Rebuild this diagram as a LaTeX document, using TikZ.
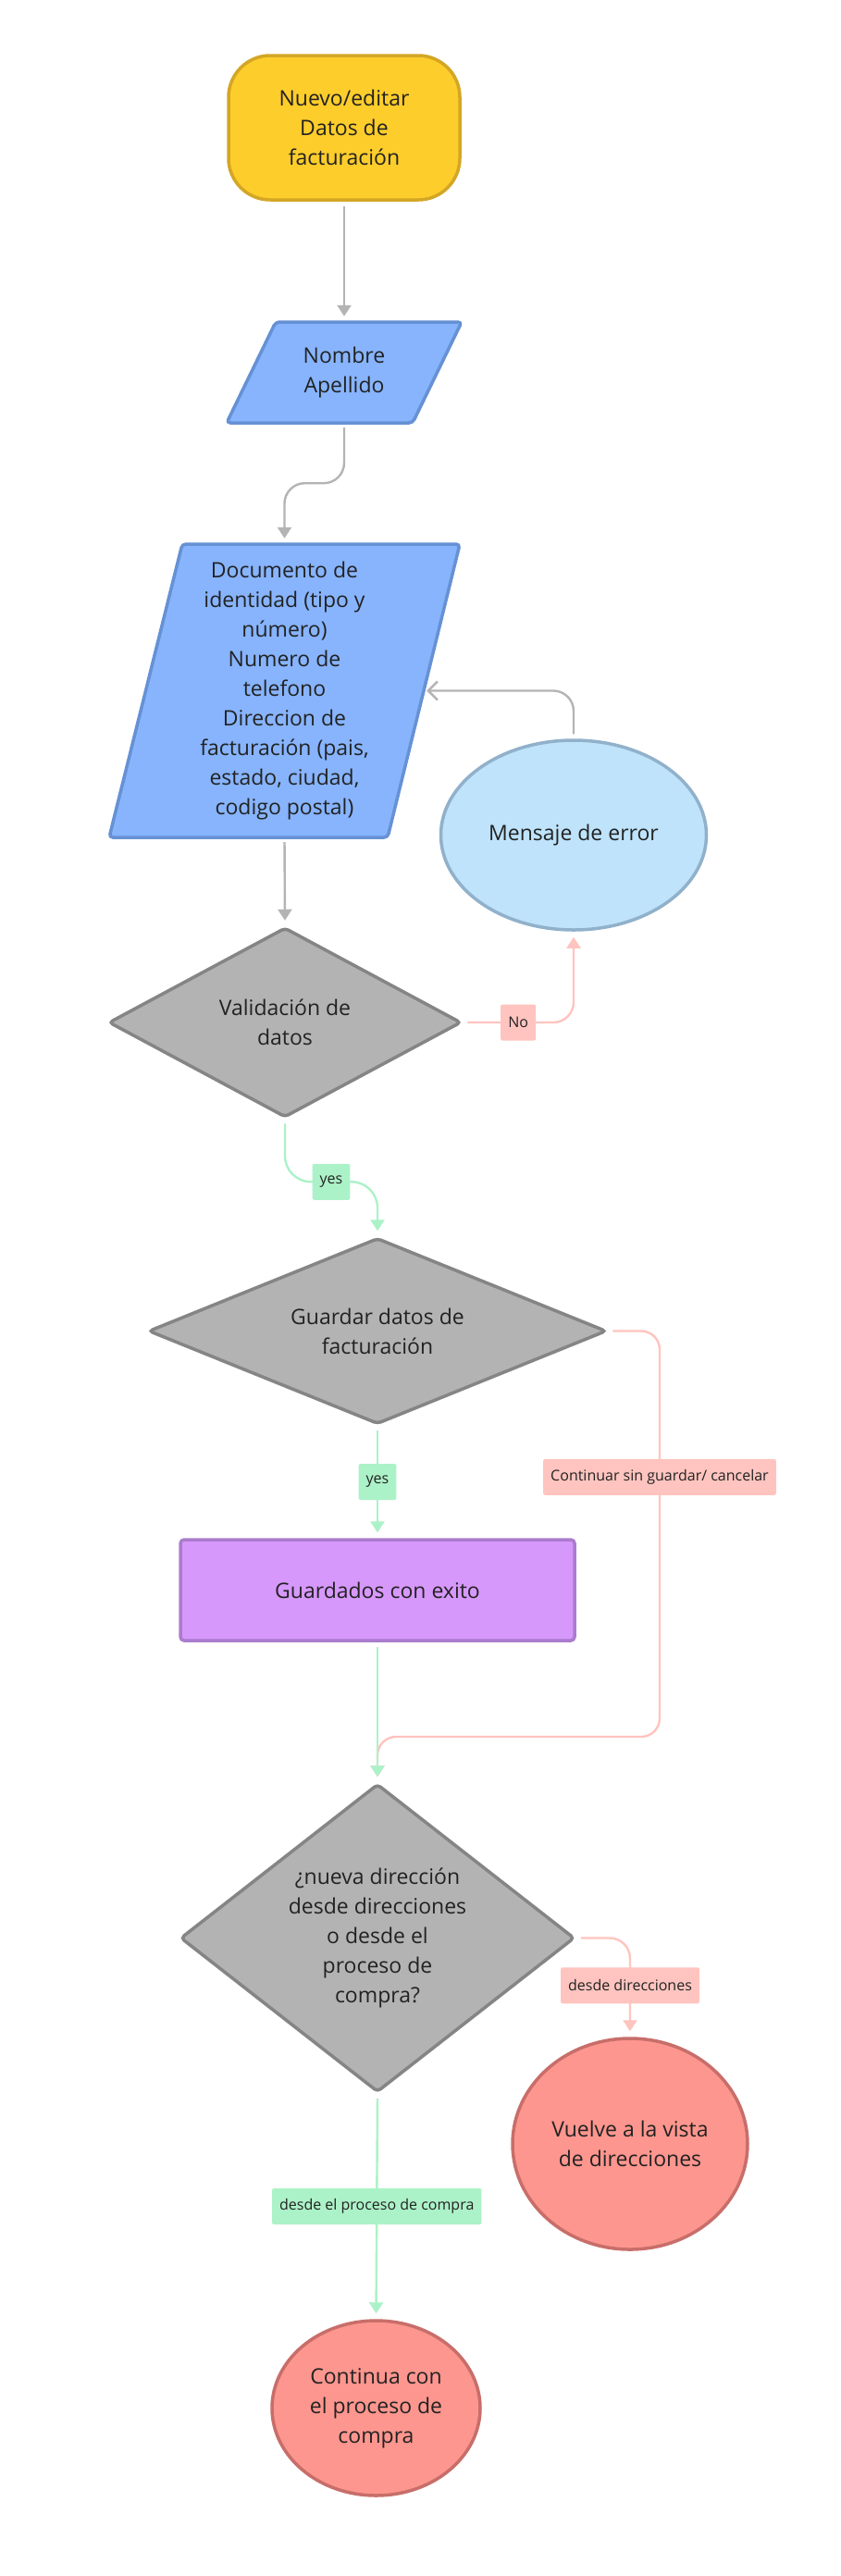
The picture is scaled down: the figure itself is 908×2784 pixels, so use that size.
\documentclass[tikz,border=0pt]{standalone}
\usepackage{fontspec}
\setmainfont{Open Sans}
\usetikzlibrary{arrows.meta,shapes.geometric}

\definecolor{txtgray}{RGB}{34,34,34}
\definecolor{startfill}{RGB}{253,205,43}
\definecolor{startline}{RGB}{212,166,38}
\definecolor{infill}{RGB}{135,180,253}
\definecolor{inline}{RGB}{102,145,212}
\definecolor{errfill}{RGB}{190,227,251}
\definecolor{errline}{RGB}{145,177,203}
\definecolor{decfill}{RGB}{179,179,179}
\definecolor{decline}{RGB}{133,133,133}
\definecolor{okfill}{RGB}{215,152,251}
\definecolor{okline}{RGB}{170,124,205}
\definecolor{endfill}{RGB}{253,150,142}
\definecolor{endline}{RGB}{200,110,106}
\definecolor{greenln}{RGB}{172,242,200}
\definecolor{pinkln}{RGB}{255,196,191}
\definecolor{grayln}{RGB}{180,180,180}

\tikzset{
  txt/.style={text=txtgray, font=\fontsize{23}{32}\selectfont, align=center},
  startbox/.style={txt, draw=startline, fill=startfill, line width=3.5pt,
    rounded corners=45pt, minimum width=250pt, minimum height=156pt},
  inbox/.style={draw=inline, fill=infill, line width=3.5pt, rounded corners=4pt},
  intext/.style={txt, inner sep=0pt},
  decision/.style={txt, diamond, draw=decline, fill=decfill, line width=3.5pt,
    rounded corners=4pt, inner sep=0pt},
  okbox/.style={txt, draw=okline, fill=okfill, line width=3.5pt, rounded corners=4pt,
    minimum width=426pt, minimum height=109pt},
  errblob/.style={txt, ellipse, draw=errline, fill=errfill, line width=3.5pt, inner sep=0pt},
  endblob/.style={txt, ellipse, draw=endline, fill=endfill, line width=3.5pt, inner sep=0pt},
  link/.style={line width=2.4pt, shorten <=5pt, shorten >=6pt,
    -{Triangle[width=15pt,length=12pt]}},
  greylink/.style={link, draw=grayln},
  greenlink/.style={link, draw=greenln},
  redlink/.style={link, draw=pinkln},
  backlink/.style={line width=2.4pt, draw=grayln, shorten <=5pt, shorten >=3pt,
    -{Straight Barb[width=20pt,length=10pt,line width=2.4pt]}},
  lbl/.style={text=txtgray, font=\fontsize{16}{20}\selectfont, inner xsep=8pt,
    inner ysep=0pt, minimum height=39pt, minimum width=38pt, rounded corners=2pt},
  glabel/.style={lbl, fill=greenln},
  rlabel/.style={lbl, fill=pinkln}
}

\begin{document}
\begin{tikzpicture}[x=1pt,y=-1pt]
  \useasboundingbox (0,0) rectangle (908,2784);
  \fill[white] (0,0) rectangle (908,2784); % background

  % start
  \node[startbox] (start) at (372,138) {Nuevo/editar\\Datos de\\facturación};

  % input boxes (parallelograms)
  \draw[inbox] (245,457) -- (298,348) -- (499,348) -- (446,457) -- cycle;
  \node[intext, minimum width=160pt, minimum height=109pt] (nombre) at (372,402.5) {Nombre\\Apellido};
  \draw[inbox] (118,905) -- (197,588) -- (497,588) -- (419,905) -- cycle;
  \node[intext, minimum width=301pt, minimum height=317pt] (doc) at (307.5,746.5)
    {Documento de\\identidad (tipo y\\número)\\Numero de\\telefono\\Direccion de\\facturación (pais,\\estado, ciudad,\\codigo postal)};

  % error message
  \node[errblob, minimum width=287pt, minimum height=205pt] (error) at (620,902.5) {Mensaje de error};

  % decisions
  \node[decision, aspect=1.86, minimum width=381pt, minimum height=205pt] (valid) at (308,1105) {Validación de\\datos};
  \node[decision, aspect=2.46, minimum width=495pt, minimum height=201pt] (guardar) at (408,1438.5) {Guardar datos de\\facturación};
  \node[okbox] (ok) at (408,1718.5) {Guardados con exito};
  \node[decision, aspect=1.28, minimum width=426pt, minimum height=333pt] (nueva) at (408,2094.5)
    {¿nueva dirección\\desde direcciones\\o desde el\\proceso de\\compra?};

  % ends
  \node[endblob, minimum width=254pt, minimum height=228pt] (vuelve) at (681,2317) {Vuelve a la vista\\de direcciones};
  \node[endblob, minimum width=225pt, minimum height=189pt] (cont) at (406.5,2602.5) {Continua con\\el proceso de\\compra};

  % connectors
  \draw[greylink] (start.south) -- (nombre.north);
  \draw[greylink, rounded corners=22pt] (nombre.south) -- ++(0,65) -| (doc.north);
  \draw[greylink] (doc.south) -- (valid.north);
  \draw[backlink, rounded corners=22pt] (error.north) |- (doc.east);
  \draw[redlink, rounded corners=22pt] (valid.east) -| node[pos=0.25, rlabel] (no) {No} (error.south);
  \draw[greenlink, rounded corners=28pt] (valid.south) -- ++(0,68) -| node[pos=0.25, glabel] (yes1) {yes} (guardar.north);

  \coordinate (back) at (713,1877);
  \draw[redlink, rounded corners=20pt] (guardar.east) -| node[pos=0.68, rlabel] (skip) {Continuar sin guardar/ cancelar} (back) -| (nueva.north);
  \draw[greenlink] (guardar.south) -- node[glabel] (yes2) {yes} (ok.north);
  \draw[greenlink] (ok.south) -- (nueva.north);

  \draw[redlink, rounded corners=22pt] (nueva.east) -| node[pos=0.74, rlabel] (dir) {desde direcciones} (vuelve.north);
  \draw[greenlink] (nueva.south) -- node[glabel] (compra) {desde el proceso de compra} (cont.north);
\end{tikzpicture}
\end{document}
